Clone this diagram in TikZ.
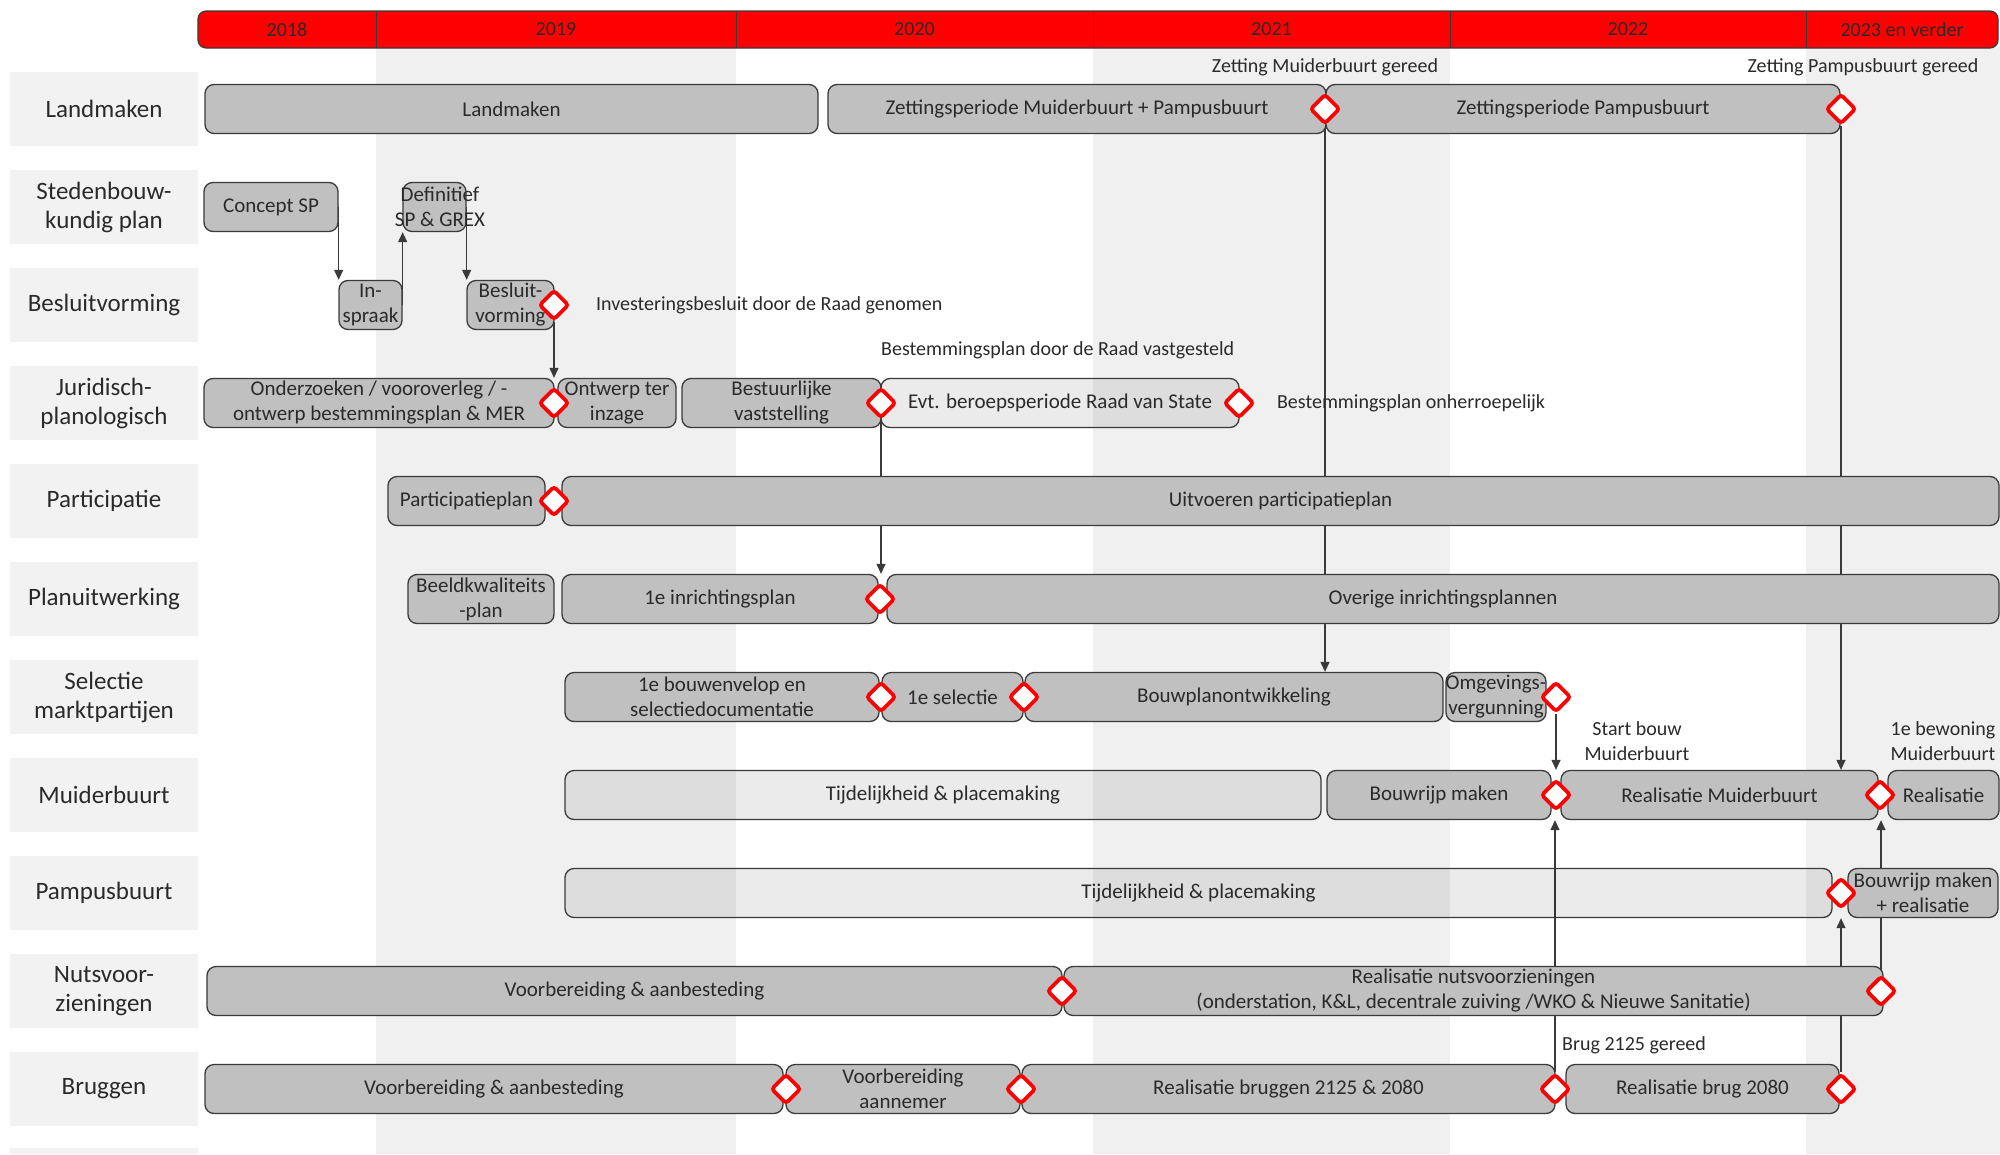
\documentclass[tikz,border=0pt]{standalone}
\usepackage{fontspec}
\setmainfont{Carlito}
\usetikzlibrary{arrows.meta,positioning,shapes.geometric}

\definecolor{hdrred}{HTML}{FF0000}
\definecolor{stripe}{HTML}{EFF0EF}
\definecolor{lblfill}{HTML}{F2F2F2}
\definecolor{barfill}{HTML}{C0C0C0}
\definecolor{barline}{HTML}{3A3A3A}
\definecolor{txt}{HTML}{2A2A2A}

\pgfdeclarelayer{back}
\pgfdeclarelayer{links}
\pgfsetlayers{back,links,main}

\begin{document}
\begin{tikzpicture}[x=1pt,y=-1pt,>={Triangle[length=10pt,width=9pt]}]
\tikzstyle{rowlbl}=[fill=lblfill, minimum width=188pt, minimum height=74pt, inner sep=0pt, align=center, text=txt, font=\fontsize{25}{29}\selectfont]
\tikzstyle{bar}=[draw=barline, fill=barfill, line width=1.3pt, rounded corners=9pt, minimum height=49pt, inner sep=0pt, align=center, text=txt, font=\fontsize{21}{25}\selectfont]
\tikzstyle{lightbar}=[bar, fill=black, fill opacity=0.08, text opacity=1]
\tikzstyle{bartxt}=[inner sep=0pt, align=center, text=txt, font=\fontsize{21}{25}\selectfont]
\tikzstyle{ms}=[diamond, draw=hdrred, fill=white, line width=3.8pt, minimum width=30pt, minimum height=30pt, inner sep=0pt, rounded corners=3pt]
\tikzstyle{notetxt}=[inner sep=1pt, align=center, text=txt, font=\fontsize{20}{25}\selectfont]
\tikzstyle{yearcell}=[minimum height=37pt, inner sep=0pt, text=txt, font=\fontsize{20}{24}\selectfont]
\tikzstyle{linkline}=[draw=barline, line width=1.2pt]
\useasboundingbox (0,0) rectangle (2000,1154);
% year columns
\begin{pgfonlayer}{back}
\fill[stripe] (376,48) rectangle (736,1154);
\fill[stripe] (1093,48) rectangle (1450,1154);
\fill[stripe] (1806,48) rectangle (2000,1154);
\end{pgfonlayer}
% header
\draw[fill=hdrred, draw=barline, line width=1.2pt, rounded corners=8pt] (198,11) rectangle (1998,48);
\node[yearcell, minimum width=178pt] (y2018) at (287,29.5) {2018};
\node[yearcell, minimum width=360pt] (y2019) at (556,29.5) {2019};
\node[yearcell, minimum width=357pt] (y2020) at (914.5,29.5) {2020};
\node[yearcell, minimum width=357pt] (y2021) at (1271.5,29.5) {2021};
\node[yearcell, minimum width=356pt] (y2022) at (1628,29.5) {2022};
\node[yearcell, minimum width=192pt] (y2023) at (1902,29.5) {2023 en verder};
\draw[barline, line width=1pt] (y2018.north east) -- (y2018.south east);
\draw[barline, line width=1pt] (y2019.north east) -- (y2019.south east);
\draw[barline, line width=1pt] (y2020.north east) -- (y2020.south east);
\draw[barline, line width=1pt] (y2021.north east) -- (y2021.south east);
\draw[barline, line width=1pt] (y2022.north east) -- (y2022.south east);
% row labels
\node[rowlbl] (lland) at (104,109) {Landmaken};
\node[rowlbl] (lsted) at (104,207) {Stedenbouw-\\kundig plan};
\node[rowlbl] (lbesl) at (104,305) {Besluitvorming};
\node[rowlbl] (ljur) at (104,403) {Juridisch-\\planologisch};
\node[rowlbl] (lpart) at (104,501) {Participatie};
\node[rowlbl] (lplan) at (104,599) {Planuitwerking};
\node[rowlbl] (lsel) at (104,697) {Selectie\\marktpartijen};
\node[rowlbl] (lmuid) at (104,795) {Muiderbuurt};
\node[rowlbl] (lpamp) at (104,893) {Pampusbuurt};
\node[rowlbl] (lnuts) at (104,991) {Nutsvoor-\\zieningen};
\node[rowlbl] (lbrug) at (104,1089) {Bruggen};
\fill[lblfill] (10,1148) rectangle (198,1154);
% landmaken
\node[bar, minimum width=613pt] (landm) at (511.5,109) {Landmaken};
\node[bar, minimum width=498pt] (zetmp) at (1077,109) {Zettingsperiode Muiderbuurt + Pampusbuurt};
\node[bar, minimum width=514pt] (zetpb) at (1583,109) {Zettingsperiode Pampusbuurt};
\node[ms] (mszet1) at (1325,109) {};
\node[ms] (mszet2) at (1841,109) {};
\node[notetxt, above=15pt of mszet1] (nzet1) {Zetting Muiderbuurt gereed};
\node[notetxt, above=15pt of mszet2, xshift=22pt] (nzet2) {Zetting Pampusbuurt gereed};
% stedenbouwkundig plan / besluitvorming
\node[bar, minimum width=134pt] (conceptsp) at (271,207) {Concept SP};
\node[bar, minimum width=63pt] (defsp) at (434.5,207) {};
\node[bartxt] (defsptxt) at (440,207) {Definitief\\SP \& GREX};
\node[bar, minimum width=63pt] (inspraak) at (370.5,305) {In-\\spraak};
\node[bar, minimum width=87pt] (besluit) at (510.5,305) {Besluit-\\vorming};
\node[ms] (msbes) at (554,305) {};
\node[notetxt, right=24pt of msbes] (nbes) {Investeringsbesluit door de Raad genomen};
% juridisch-planologisch
\node[bar, minimum width=350pt] (onderz) at (379,403) {Onderzoeken / vooroverleg / -\\ontwerp bestemmingsplan \& MER};
\node[bar, minimum width=118pt] (ontwerp) at (617,403) {Ontwerp ter\\inzage};
\node[bar, minimum width=199pt] (bestvast) at (781.5,403) {Bestuurlijke\\vaststelling};
\node[lightbar, minimum width=358pt] (rvs) at (1060,403) {Evt. beroepsperiode Raad van State};
\node[ms] (msonderz) at (554,403) {};
\node[ms] (msvast) at (881,403) {};
\node[ms] (msrvs) at (1239,403) {};
\node[notetxt, anchor=west] (nvast) at (880,350) {Bestemmingsplan door de Raad vastgesteld};
\node[notetxt, right=20pt of msrvs] (nrvs) {Bestemmingsplan onherroepelijk};
% participatie
\node[bar, minimum width=157pt] (partplan) at (466.5,501) {Participatieplan};
\node[bar, minimum width=1437pt] (uitvpart) at (1280.5,501) {Uitvoeren participatieplan};
\node[ms] (mspart) at (554,501) {};
% planuitwerking
\node[bar, minimum width=146pt] (beeldkw) at (481,599) {Beeldkwaliteits\\-plan};
\node[bar, minimum width=316pt] (inr1) at (720,599) {1e inrichtingsplan};
\node[bar, minimum width=1112pt] (inrov) at (1443,599) {Overige inrichtingsplannen};
\node[ms] (msinr) at (880,599) {};
% selectie marktpartijen
\node[bar, minimum width=314pt] (bouwenv) at (722,697) {1e bouwenvelop en\\selectiedocumentatie};
\node[bar, minimum width=141pt] (sel1) at (952.5,697) {1e selectie};
\node[bar, minimum width=418pt] (bouwplan) at (1234,697) {Bouwplanontwikkeling};
\node[bar, minimum width=100pt] (omgev) at (1496,697) {};
\node[bartxt] (omgevtxt) at (1496,697) {Omgevings-\\vergunning};
\node[ms] (msbouwenv) at (881,697) {};
\node[ms] (mssel) at (1024,697) {};
\node[ms] (msomg) at (1556,697) {};
\node[notetxt] (nstart) at (1637,741) {Start bouw\\Muiderbuurt};
\node[notetxt] (nbewon) at (1943,741) {1e bewoning\\Muiderbuurt};
% muiderbuurt
\node[lightbar, minimum width=756pt] (tijdmb) at (943,795) {Tijdelijkheid \& placemaking};
\node[bar, minimum width=224pt] (bouwrijp) at (1439,795) {Bouwrijp maken};
\node[bar, minimum width=317pt] (realmb) at (1719.5,795) {Realisatie Muiderbuurt};
\node[bar, minimum width=111pt] (realis) at (1943.5,795) {Realisatie};
\node[ms] (msbouwrijp) at (1556,795) {};
\node[ms] (msrealmb) at (1880,795) {};
% pampusbuurt
\node[lightbar, minimum width=1267pt] (tijdpb) at (1198.5,893) {Tijdelijkheid \& placemaking};
\node[bar, minimum width=150pt] (bouwrijppb) at (1923,893) {Bouwrijp maken\\+ realisatie};
\node[ms] (mstijdpb) at (1841,893) {};
% nutsvoorzieningen
\node[bar, minimum width=855pt] (voorbnuts) at (634.5,991) {Voorbereiding \& aanbesteding};
\node[bar, minimum width=819pt] (realnuts) at (1473.5,991) {Realisatie nutsvoorzieningen\\(onderstation, K\&L, decentrale zuiving /WKO \& Nieuwe Sanitatie)};
\node[ms] (msnuts1) at (1062,991) {};
\node[ms] (msnuts2) at (1881,991) {};
% bruggen
\node[bar, minimum width=578pt] (voorbbr) at (494,1089) {Voorbereiding \& aanbesteding};
\node[bar, minimum width=234pt] (voorbann) at (903,1089) {Voorbereiding\\aannemer};
\node[bar, minimum width=533pt] (realbr) at (1288.5,1089) {Realisatie bruggen 2125 \& 2080};
\node[bar, minimum width=273pt] (realbr80) at (1702.5,1089) {Realisatie brug 2080};
\node[ms] (msbr1) at (786,1089) {};
\node[ms] (msbr2) at (1021,1089) {};
\node[ms] (msbr3) at (1555,1089) {};
\node[ms] (msbr4) at (1841,1089) {};
\node[notetxt, anchor=west] (nbrug) at (1561,1045) {Brug 2125 gereed};
% dependencies
\begin{pgfonlayer}{links}
\draw[linkline,->] (conceptsp.east) -- (conceptsp.east |- inspraak.north);
\draw[linkline,->] (inspraak.east) -- (inspraak.east |- defsp.south);
\draw[linkline,->] (defsp.east) -- (defsp.east |- besluit.north);
\draw[linkline,->] (msbes.south) -- (msbes.south |- onderz.north);
\draw[linkline,->] (msvast.south) -- (msvast.south |- inr1.north);
\draw[linkline,->] (mszet1.south) -- (mszet1.south |- bouwplan.north);
\draw[linkline,->] (mszet2.south) -- (mszet2.south |- realmb.north);
\draw[linkline,->] (msomg.south) -- (msomg.south |- realmb.north);
\draw[linkline,->] (msbr3.north) -- (msbr3.north |- bouwrijp.south);
\draw[linkline,->] (msbr4.north) -- (msbr4.north |- tijdpb.south);
\draw[linkline,->] (msnuts2.north) -- (msnuts2.north |- realmb.south);
\end{pgfonlayer}
\end{tikzpicture}
\end{document}
